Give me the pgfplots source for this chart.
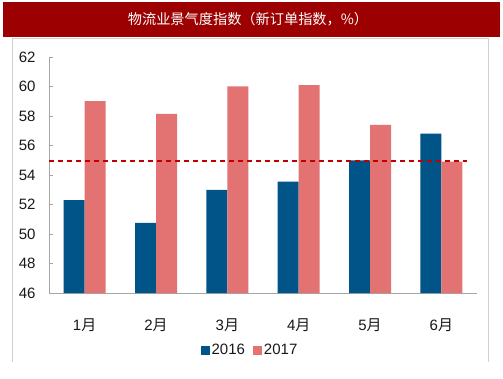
\documentclass[border=0pt]{standalone}
\usepackage{fontspec}
\setmainfont{Liberation Sans}
\newfontfamily\cjk{Noto Sans CJK SC}
\usepackage{pgfplots}
\pgfplotsset{compat=1.18}
\definecolor{titlered}{HTML}{9C0000}
\definecolor{bblue}{HTML}{005487}
\definecolor{bpink}{HTML}{E37373}
\definecolor{dashred}{HTML}{C00000}
\definecolor{axgray}{HTML}{A6A6A6}
\begin{document}
\begin{tikzpicture}[x=1bp,y=1bp]
\path[use as bounding box, fill=white] (0,0) rectangle (503,378);
\fill[titlered] (3,341) rectangle (500,376);
\node[text=white, font=\cjk\fontsize{14.2bp}{16bp}\selectfont] at (248,358.5) {物流业景气度指数（新订单指数，\%）};
\draw[black!18, line width=0.8bp] (12,16) -- (12,340) -- (488,340) -- (488,16);
\begin{axis}[
  at={(49bp,85bp)}, anchor=south west, scale only axis,
  width=428bp, height=236bp,
  xmin=-0.5, xmax=5.5, ymin=46, ymax=62,
  ytick={46,48,...,62},
  xtick={0,...,5},
  xticklabels={1{\cjk 月},2{\cjk 月},3{\cjk 月},4{\cjk 月},5{\cjk 月},6{\cjk 月}},
  minor xtick={-0.5,0.5,...,5.5},
  axis x line*=bottom, axis y line*=left,
  axis line style={axgray, line width=1bp},
  x tick style={draw=none},
  minor x tick style={axgray, line width=0.8bp},
  minor tick length=5bp,
  y tick style={axgray, line width=0.8bp},
  major tick length=4bp,
  tick align=inside,
  /pgf/number format/assume math mode=true,
  ticklabel style={font=\fontsize{15bp}{17bp}\selectfont, text=black!90},
  yticklabel style={anchor=east, xshift=-10bp},
  xticklabel style={anchor=center, yshift=-32bp},
  legend columns=2,
  legend style={at={(0.4696,-0.2415)}, anchor=center, draw=none, fill=none,
    font=\fontsize{15bp}{17bp}\selectfont, text=black!90,
    /tikz/every even column/.append style={column sep=6bp}},
  legend image code/.code={\fill[#1] (0bp,-4.5bp) rectangle (9bp,4.5bp);},
]
\addplot[ybar, bar width=21bp, bar shift=-10.5bp, fill=bblue, draw=none]
  coordinates {(0,52.3) (1,50.75) (2,53.0) (3,53.55) (4,55.0) (5,56.8)};
\addlegendentry{2016}
\addplot[ybar, bar width=21bp, bar shift=10.5bp, fill=bpink, draw=none]
  coordinates {(0,59.0) (1,58.15) (2,60.0) (3,60.1) (4,57.4) (5,54.9)};
\addlegendentry{2017}
\addplot[dashred, line width=2bp, dash pattern=on 5bp off 4bp, forget plot]
  coordinates {(-0.5,54.92) (5.36,54.92)};
\end{axis}
\end{tikzpicture}
\end{document}
